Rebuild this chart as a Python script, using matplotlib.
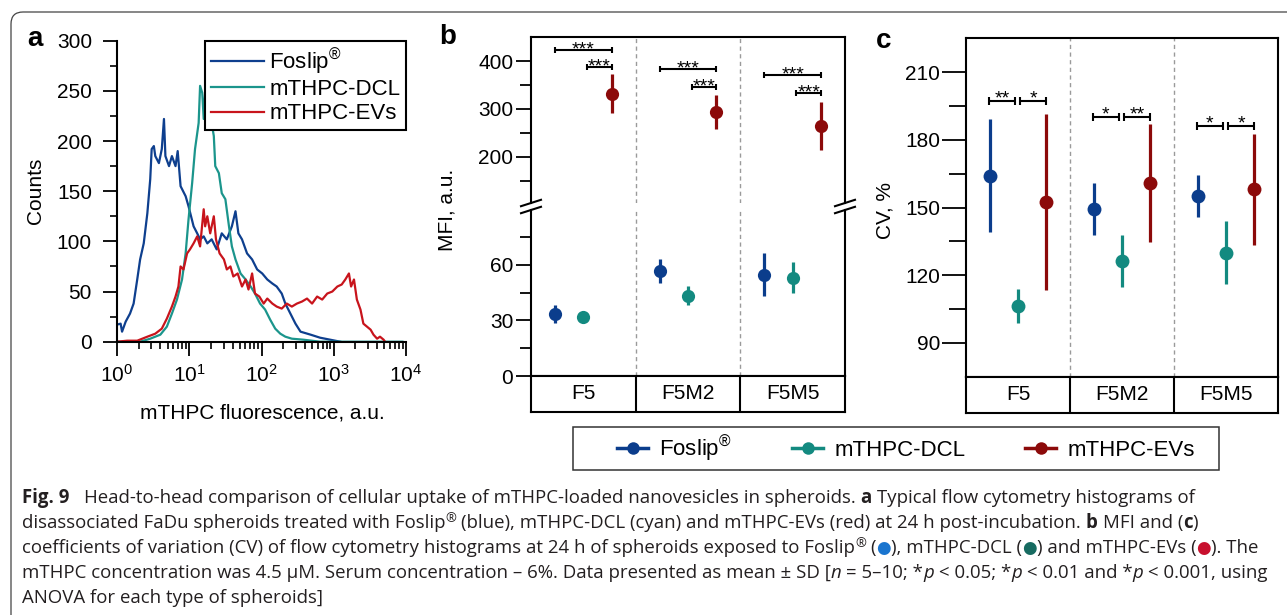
import numpy as np
import matplotlib
matplotlib.use("Agg")
import matplotlib.pyplot as plt
from matplotlib.lines import Line2D
from matplotlib.patches import FancyBboxPatch, Rectangle
from matplotlib.transforms import IdentityTransform
from matplotlib.ticker import FixedLocator, LogLocator, NullFormatter

plt.rcParams["font.family"] = ["Liberation Sans", "DejaVu Sans"]
plt.rcParams["mathtext.default"] = "regular"

# ---- panel a: flow cytometry histograms (log10 of fluorescence, counts)
fl_foslip_log = [0.00, 0.05, 0.07, 0.12, 0.18, 0.23, 0.28, 0.32, 0.37, 0.42,
                 0.46, 0.48, 0.51, 0.53, 0.58, 0.62, 0.65, 0.67, 0.72, 0.76,
                 0.81, 0.84, 0.88, 0.95, 0.99, 1.06, 1.11, 1.15, 1.20, 1.25,
                 1.31, 1.38, 1.45, 1.52, 1.59, 1.64, 1.68, 1.73, 1.80, 1.87,
                 1.94, 2.01, 2.08, 2.15, 2.21, 2.28, 2.33, 2.40, 2.47, 2.54,
                 2.68, 2.81, 2.95, 3.09]
cnt_foslip = [17, 18, 10, 20, 28, 38, 62, 82, 98, 128,
              162, 192, 195, 185, 178, 192, 222, 185, 175, 185,
              175, 190, 155, 145, 135, 115, 108, 102, 105, 98,
              102, 92, 108, 102, 115, 130, 108, 102, 88, 82,
              72, 68, 62, 58, 55, 48, 38, 28, 18, 10,
              7, 4, 2, 0]

fl_dcl_log = [0.00, 0.32, 0.46, 0.60, 0.69, 0.76, 0.83, 0.90, 0.95, 0.99,
              1.04, 1.08, 1.13, 1.15, 1.18, 1.20, 1.22, 1.25, 1.28, 1.31,
              1.34, 1.36, 1.41, 1.45, 1.50, 1.55, 1.59, 1.64, 1.71, 1.78,
              1.85, 1.91, 1.98, 2.05, 2.12, 2.19, 2.26, 2.33, 2.42, 2.58,
              2.81, 3.95]
cnt_dcl = [0, 0, 3, 7, 15, 28, 42, 62, 88, 122,
           158, 192, 218, 255, 248, 222, 248, 235, 215, 218,
           205, 175, 168, 148, 142, 115, 95, 82, 68, 62,
           55, 48, 38, 32, 22, 13, 8, 5, 3, 2,
           0, 0]

fl_evs_log = [0.00, 0.14, 0.28, 0.42, 0.53, 0.62, 0.69, 0.76, 0.81, 0.85,
              0.88, 0.92, 0.97, 1.01, 1.06, 1.11, 1.15, 1.20, 1.22, 1.25,
              1.29, 1.34, 1.37, 1.42, 1.48, 1.52, 1.57, 1.61, 1.67, 1.73,
              1.78, 1.82, 1.87, 1.91, 1.97, 2.03, 2.08, 2.15, 2.21, 2.28,
              2.35, 2.42, 2.49, 2.56, 2.63, 2.70, 2.77, 2.84, 2.91, 2.98,
              3.05, 3.11, 3.16, 3.21, 3.24, 3.28, 3.32, 3.37, 3.41, 3.46,
              3.51, 3.55, 3.60, 3.64, 3.69, 3.71]
cnt_evs = [0, 1, 1, 5, 8, 13, 23, 35, 45, 55,
           75, 72, 88, 92, 98, 105, 95, 132, 115, 125,
           108, 125, 102, 88, 82, 72, 75, 65, 68, 55,
           62, 52, 68, 48, 45, 38, 43, 38, 35, 33,
           38, 35, 38, 40, 43, 38, 45, 42, 48, 50,
           55, 57, 62, 68, 55, 62, 42, 32, 18, 15,
           12, 7, 3, 5, 2, 0]

# ---- panels b, c
groups = ["F5", "F5M2", "F5M5"]
series = ["Foslip$^{®}$", "mTHPC-DCL", "mTHPC-EVs"]

mfi_foslip = [33.6, 56.8, 54.6]
mfi_foslip_sd = [5.0, 6.3, 11.6]
mfi_dcl = [31.8, 43.4, 53.2]
mfi_dcl_sd = [2.0, 5.0, 8.3]
mfi_evs = [332, 294, 264]
mfi_evs_sd = [40, 36, 51]

cv_foslip = [164.1, 149.3, 155.2]
cv_foslip_sd = [25.0, 11.7, 9.3]
cv_dcl = [106.3, 126.3, 130.0]
cv_dcl_sd = [7.4, 11.7, 13.8]
cv_evs = [152.6, 160.8, 158.1]
cv_evs_sd = [39.0, 26.0, 24.6]

mfi_sig_long_y = [423, 382.5, 370.6]
mfi_sig_short_y = [388, 346, 333.6]
mfi_sig_long = ["***", "***", "***"]
mfi_sig_short = ["***", "***", "***"]

cv_sig_y = [197.1, 190.0, 186.3]
cv_sig_left = ["**", "*", "*"]
cv_sig_right = ["*", "**", "*"]

hist_colors = ["#0e3f8e", "#1b958c", "#c8141c"]
dot_colors = ["#0b3d8c", "#138a80", "#8c0a0a"]

W, H = 1287, 615
fig = plt.figure(figsize=(W / 100, H / 100), dpi=100)


def box(l, t, r, b):
    return [l / W, 1 - b / H, (r - l) / W, (b - t) / H]


def fx(x):
    return x / W


def fy(y):
    return 1 - y / H


# outer rounded frame
frame = FancyBboxPatch((11, -30), 1320, H - 12 + 30,
                       boxstyle="round,pad=0,rounding_size=12",
                       transform=IdentityTransform(), fill=False,
                       ec="#444444", lw=0.9)
fig.add_artist(frame)

# ================= panel a
ax_a = fig.add_axes(box(117, 40.7, 406, 341.7))
hl = []
for lx, cnt, c in [(fl_foslip_log, cnt_foslip, hist_colors[0]),
                   (fl_dcl_log, cnt_dcl, hist_colors[1]),
                   (fl_evs_log, cnt_evs, hist_colors[2])]:
    ln, = ax_a.plot(10 ** np.array(lx), cnt, color=c, lw=1.6)
    hl.append(ln)
ax_a.set_xscale("log")
ax_a.set_xlim(1, 1e4)
ax_a.set_ylim(0, 300)
ax_a.spines["top"].set_visible(False)
ax_a.spines["right"].set_visible(False)
for s in ["left", "bottom"]:
    ax_a.spines[s].set_linewidth(1.5)
ax_a.yaxis.set_major_locator(FixedLocator(range(0, 301, 50)))
ax_a.yaxis.set_minor_locator(FixedLocator(range(25, 300, 50)))
ax_a.xaxis.set_major_locator(LogLocator(base=10, numticks=12))
ax_a.xaxis.set_minor_locator(LogLocator(base=10, subs=np.arange(2, 10), numticks=12))
ax_a.xaxis.set_minor_formatter(NullFormatter())
ax_a.tick_params(which="major", direction="out", length=10, width=1.3, labelsize=15)
ax_a.tick_params(which="minor", direction="out", length=5, width=1.2)
ax_a.tick_params(axis="y", which="major", pad=8)
ax_a.tick_params(axis="x", which="major", pad=6)
leg = ax_a.legend(hl, series, loc="upper right", bbox_to_anchor=(1.0, 1.0),
                  borderaxespad=0, fancybox=False, edgecolor="black",
                  framealpha=1, fontsize=16, handlelength=2.4,
                  handletextpad=0.25, labelspacing=0.15, borderpad=0.25)
leg.get_frame().set_linewidth(1.5)
fig.text(fx(35), fy(191), "Counts", rotation=90, ha="center", va="center", fontsize=15)
fig.text(fx(262), fy(413), "mTHPC fluorescence, a.u.", ha="center", va="center", fontsize=15)

# ================= panel b / c helpers
pos = np.arange(3) + 0.5
offs = [-0.27, 0.0, 0.27]


def points(ax, vals_list, sds_list, ms):
    for k, (v, sd) in enumerate(zip(vals_list, sds_list)):
        ax.errorbar(pos + offs[k], v, yerr=sd, fmt="o", color=dot_colors[k],
                    ms=ms, mew=0, elinewidth=2.3, capsize=0, zorder=3)


def bracket(ax, x1, x2, y, label, cap, dy):
    ax.errorbar((x1 + x2) / 2, y, xerr=(x2 - x1) / 2, fmt="none", ecolor="black",
                elinewidth=1.5, capsize=cap, capthick=1.5, zorder=4)
    ax.annotate(label, xy=((x1 + x2) / 2, y), xytext=(0, dy),
                textcoords="offset points", ha="center", va="baseline",
                fontsize=14)


def strip(rect):
    ax = fig.add_axes(rect)
    ax.set_xlim(0, 3)
    ax.set_ylim(0, 1)
    ax.set_xticks([])
    ax.set_yticks([])
    for s in ax.spines.values():
        s.set_linewidth(1.5)
    for xv in [1, 2]:
        ax.axvline(xv, color="black", lw=1.5)
    for p, g in zip(pos, groups):
        ax.text(p, 0.5, g, ha="center", va="center", fontsize=15)
    return ax


# ================= panel b (broken axis)
ax_bt = fig.add_axes(box(531, 36.7, 845, 203))
ax_bb = fig.add_axes(box(531, 210, 845, 376))
ax_bt.set_ylim(103, 451)
ax_bb.set_ylim(0, 89.7)
for ax in (ax_bt, ax_bb):
    ax.set_xlim(0, 3)
    ax.set_xticks([])
    for s in ax.spines.values():
        s.set_linewidth(1.5)
    for xv in [1, 2]:
        ax.axvline(xv, color="#9a9a9a", lw=1.0, ls=(0, (3, 2.5)), zorder=1)
    points(ax, [mfi_foslip, mfi_dcl, mfi_evs],
           [mfi_foslip_sd, mfi_dcl_sd, mfi_evs_sd], 9.5)
    ax.tick_params(which="major", direction="out", length=10.8, width=1.3,
                   labelsize=15, pad=2)
    ax.tick_params(which="minor", direction="out", length=8, width=1.3)
ax_bt.spines["bottom"].set_visible(False)
ax_bb.spines["top"].set_visible(False)
ax_bt.yaxis.set_major_locator(FixedLocator([200, 300, 400]))
ax_bt.yaxis.set_minor_locator(FixedLocator([150, 250, 350]))
ax_bb.yaxis.set_major_locator(FixedLocator([0, 30, 60]))
ax_bb.yaxis.set_minor_locator(FixedLocator([15, 45, 75]))
for g in range(3):
    xb, xt, xr = pos[g] + offs[0], pos[g] + offs[1], pos[g] + offs[2]
    bracket(ax_bt, xb, xr, mfi_sig_long_y[g], mfi_sig_long[g], 2.5, -3.2)
    bracket(ax_bt, xt + 0.035, xr, mfi_sig_short_y[g], mfi_sig_short[g], 2.5, -3.2)
strip(box(531, 376, 845, 411.7))
# axis break marks
for xs in (531, 845):
    for ys in (203, 210):
        fig.add_artist(Line2D([xs - 10, xs + 10], [H - ys - 3.2, H - ys + 3.2],
                              transform=IdentityTransform(), color="black", lw=1.5))
fig.text(fx(447), fy(210), "MFI, a.u.", rotation=90, ha="center", va="center", fontsize=15)

# ================= panel c
ax_c = fig.add_axes(box(966, 38.3, 1278, 376.7))
ax_c.set_xlim(0, 3)
ax_c.set_ylim(75, 225)
ax_c.set_xticks([])
for s in ax_c.spines.values():
    s.set_linewidth(1.5)
for xv in [1, 2]:
    ax_c.axvline(xv, color="#9a9a9a", lw=1.0, ls=(0, (3, 2.5)), zorder=1)
points(ax_c, [cv_foslip, cv_dcl, cv_evs], [cv_foslip_sd, cv_dcl_sd, cv_evs_sd], 10)
ax_c.yaxis.set_major_locator(FixedLocator(range(90, 211, 30)))
ax_c.yaxis.set_minor_locator(FixedLocator(range(105, 200, 30)))
ax_c.tick_params(which="major", direction="out", length=17, width=1.3, labelsize=15, pad=1.5)
ax_c.tick_params(which="minor", direction="out", length=12, width=1.3)
for g in range(3):
    xb, xt, xr = pos[g] + offs[0], pos[g] + offs[1], pos[g] + offs[2]
    bracket(ax_c, xb - 0.01, xt - 0.03, cv_sig_y[g], cv_sig_left[g], 3, -1.8)
    bracket(ax_c, xt + 0.02, xr, cv_sig_y[g], cv_sig_right[g], 3, -1.8)
strip(box(966, 376.7, 1278, 412.7))
fig.text(fx(885), fy(210), "CV, %", rotation=90, ha="center", va="center", fontsize=15)

# panel letters
fig.text(fx(35), fy(39), "a", ha="center", va="center", fontsize=20, fontweight="bold")
fig.text(fx(448), fy(37), "b", ha="center", va="center", fontsize=20, fontweight="bold")
fig.text(fx(884), fy(41), "c", ha="center", va="center", fontsize=20, fontweight="bold")

# ================= common legend
fig.add_artist(Rectangle((573, H - 470), 1219 - 573, 43, transform=IdentityTransform(),
                         fill=False, ec="#333333", lw=1.1))
handles = [Line2D([], [], color=c, marker="o", lw=2.5, ms=9, mew=0) for c in dot_colors]
fig.legend(handles, series, loc="center", bbox_to_anchor=(fx(906), fy(448.5)),
           ncol=3, frameon=False, fontsize=16, handlelength=1.4,
           handletextpad=0.5, columnspacing=2.7)

# ================= caption
renderer = fig.canvas.get_renderer()
CAP_FONT = ["Open Sans", "DejaVu Sans"]
caption_dot_colors = {"dot0": "#1a75cf", "dot1": "#176b61", "dot2": "#c8102e"}

cap_lines = [
    [("Fig. 9", "b"), ("   Head-to-head comparison of cellular uptake of mTHPC-loaded nanovesicles in spheroids. ", "n"),
     ("a", "b"), (" Typical flow cytometry histograms of", "n")],
    [("disassociated FaDu spheroids treated with Foslip", "n"), ("®", "sup"),
     (" (blue), mTHPC-DCL (cyan) and mTHPC-EVs (red) at 24 h post-incubation. ", "n"),
     ("b", "b"), (" MFI and (", "n"), ("c", "b"), (")", "n")],
    [("coefficients of variation (CV) of flow cytometry histograms at 24 h of spheroids exposed to Foslip", "n"),
     ("®", "sup"), (" (", "n"), ("●", "dot0"), ("), mTHPC-DCL (", "n"), ("●", "dot1"),
     (") and mTHPC-EVs (", "n"), ("●", "dot2"), ("). The", "n")],
    [("mTHPC concentration was 4.5 µM. Serum concentration – 6%. Data presented as mean ± SD [", "n"),
     ("n", "i"), (" = 5–10; *", "n"), ("p", "i"), (" < 0.05; *", "n"), ("p", "i"),
     (" < 0.01 and *", "n"), ("p", "i"), (" < 0.001, using", "n")],
    [("ANOVA for each type of spheroids]", "n")],
]
cap_base = [503, 528, 553, 578, 603]


def run_kw(st, size):
    kw = dict(family=CAP_FONT, fontsize=size, color="#231f20")
    if st == "b":
        kw["fontweight"] = "bold"
    elif st == "i":
        kw["fontstyle"] = "italic"
    elif st == "sup":
        kw["fontsize"] = size * 0.7
    elif st in caption_dot_colors:
        kw["color"] = caption_dot_colors[st]
        kw["family"] = ["DejaVu Sans"]
        kw["fontsize"] = size * 0.9
    return kw


def width_of(s, kw):
    t = fig.text(0, 0, s, **kw)
    w = t.get_window_extent(renderer).width
    t.remove()
    return w


def draw_line(x0, base, runs, size, draw=True):
    x = x0
    for s, st in runs:
        kw = run_kw(st, size)
        core = s.strip(" ")
        lead = len(s) - len(s.lstrip(" "))
        trail = len(s) - len(s.rstrip(" "))
        sp = width_of("x x", kw) - width_of("xx", kw)
        x += lead * sp
        if core:
            if draw:
                dy = 6 if st == "sup" else 0
                t = fig.text(fx(x), fy(base - dy), core, ha="left", va="baseline", **kw)
                x += t.get_window_extent(renderer).width
            else:
                x += width_of(core, kw)
        x += trail * sp
    return x - x0


base_size = 11.5
w3 = draw_line(22, 0, cap_lines[2], base_size, draw=False)
cap_size = base_size * (1262 - 22) / w3
cap_size = min(max(cap_size, 9.5), 13.5)
for runs, b in zip(cap_lines, cap_base):
    draw_line(22, b, runs, cap_size)

fig.savefig("out.png", dpi=100)
